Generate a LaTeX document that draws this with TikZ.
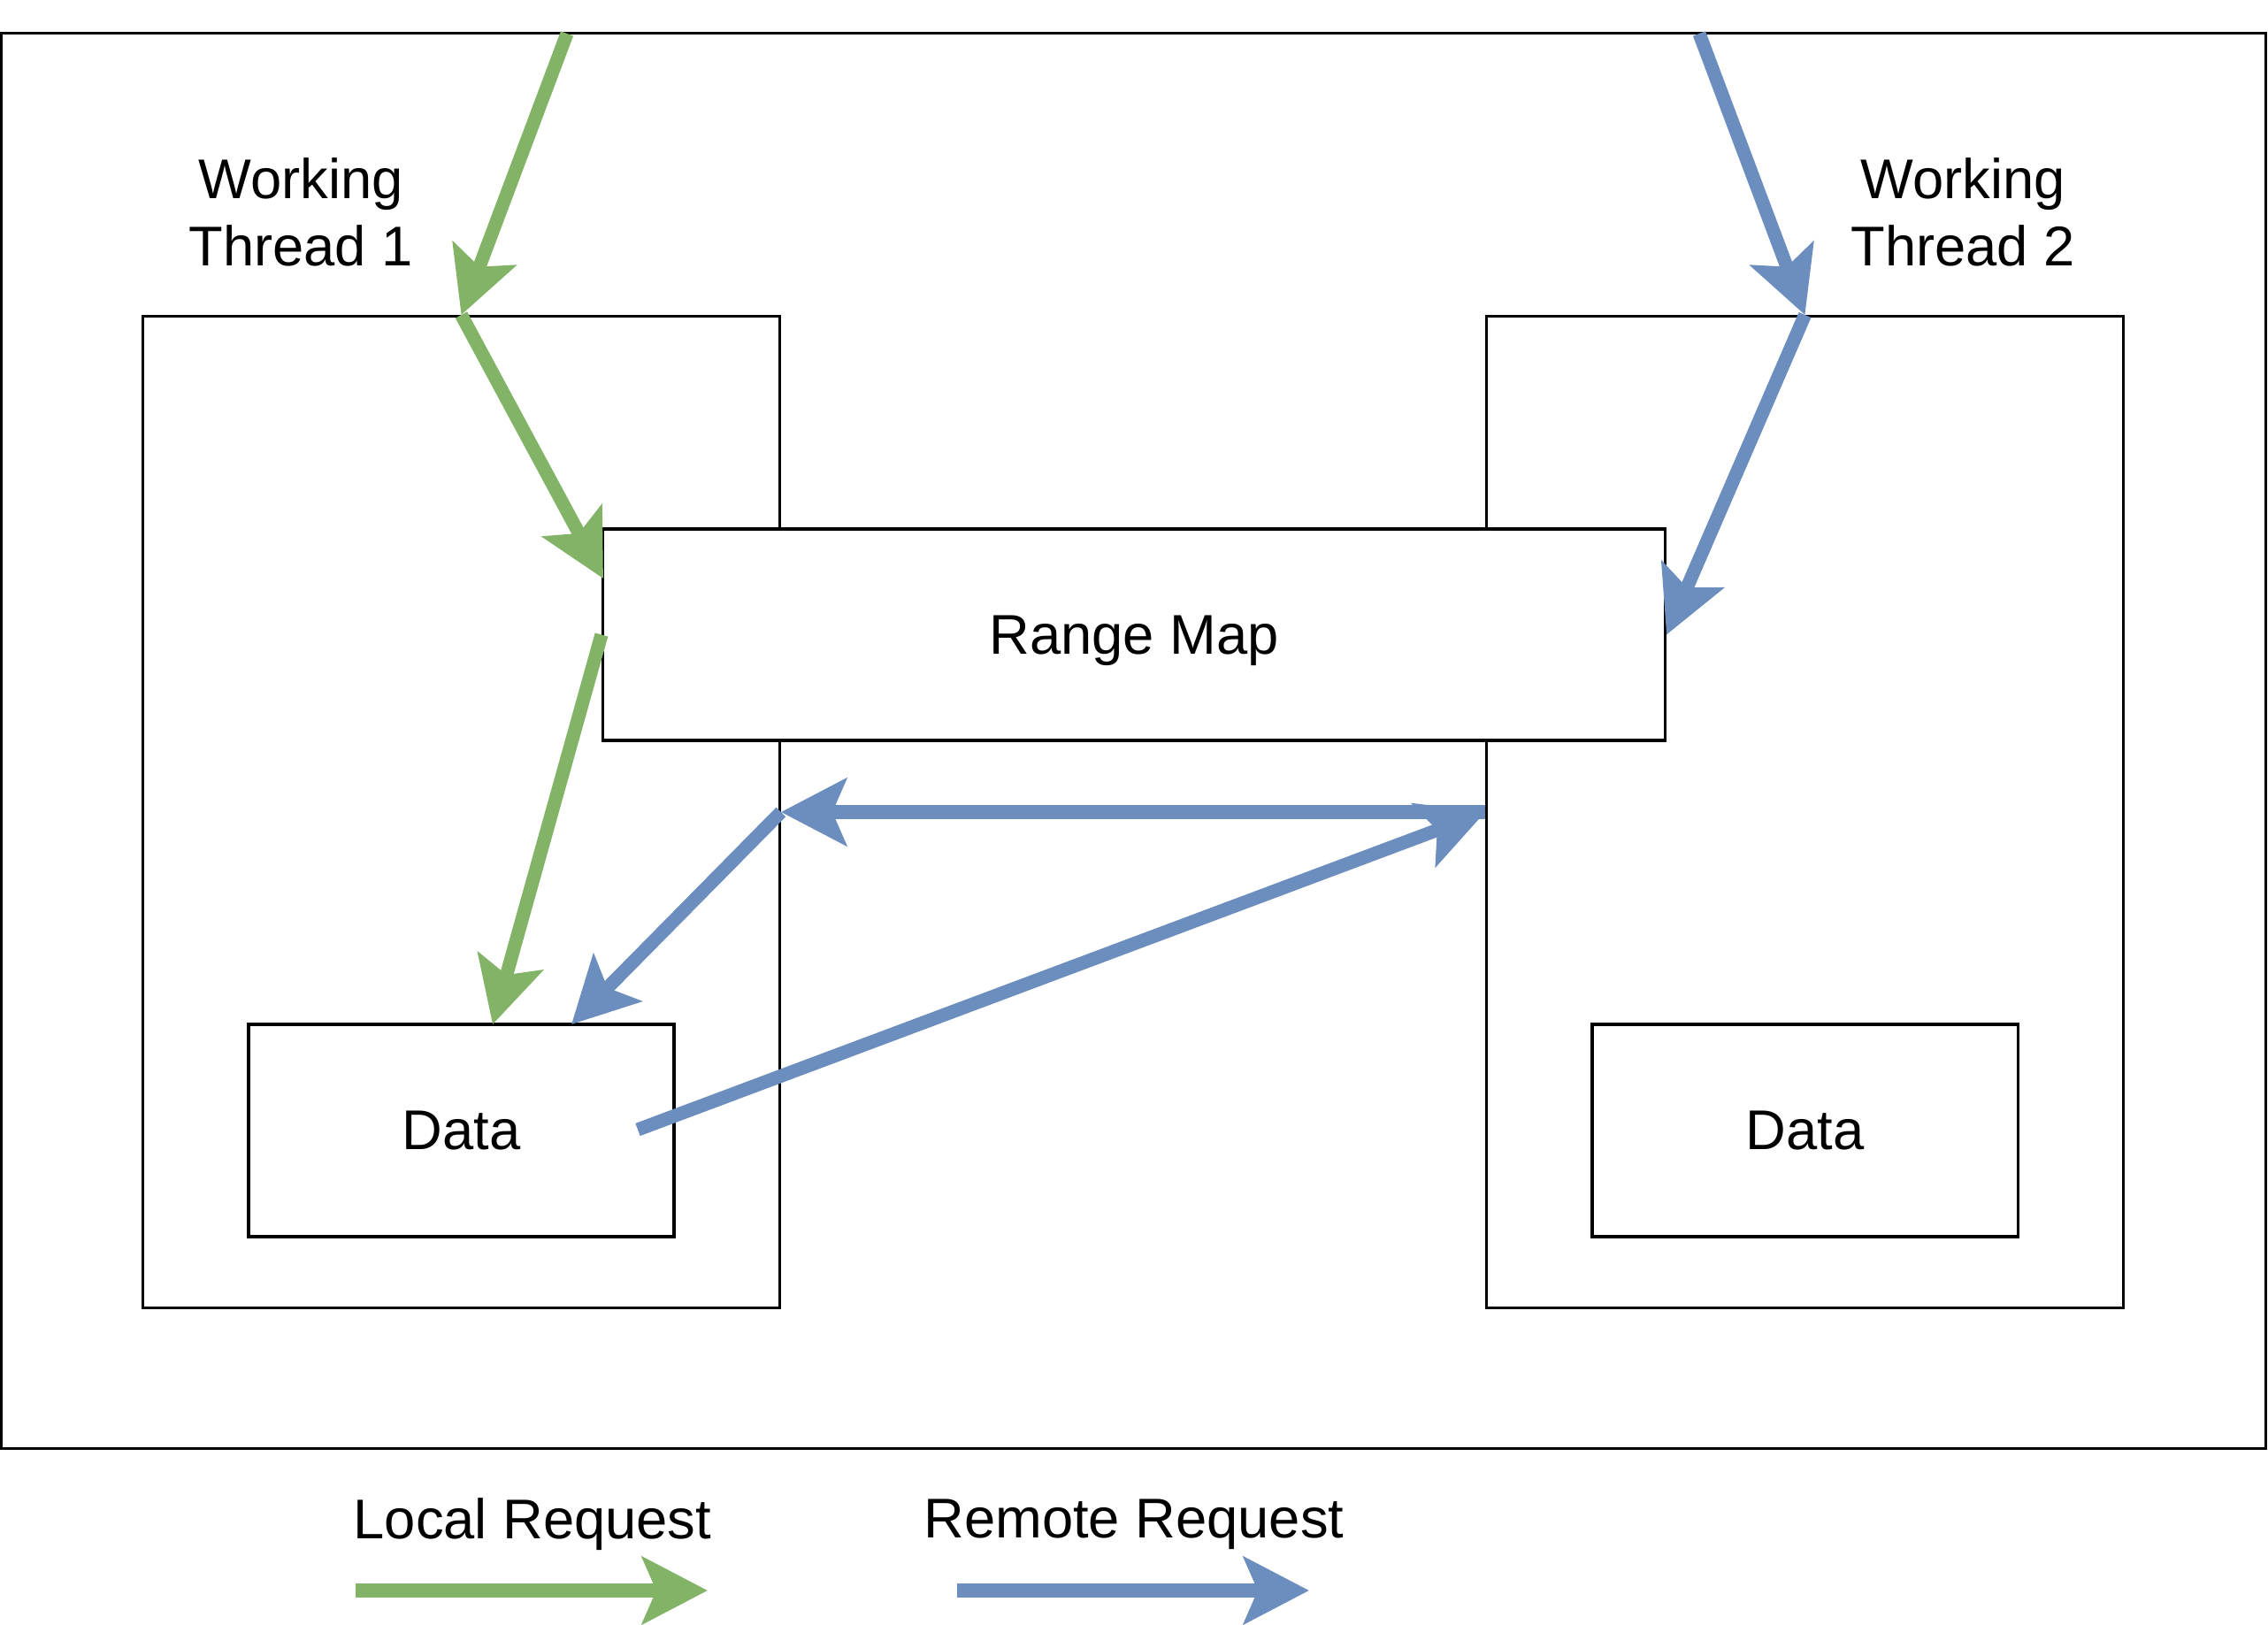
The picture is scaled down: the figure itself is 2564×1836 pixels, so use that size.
\documentclass[tikz,border=0pt]{standalone}
\usepackage{fontspec}
\setmainfont{Liberation Sans}
\usepackage{tikz}
\usetikzlibrary{arrows.meta}
\definecolor{localgreen}{HTML}{82B366}
\definecolor{remoteblue}{HTML}{6C8EBF}

\begin{document}
\begin{tikzpicture}[x=0.01cm, y=-0.01cm, font=\fontsize{18pt}{21.6pt}\selectfont,
  box/.style={draw, line width=0.95pt, fill=white, inner sep=0pt},
  txt/.style={align=center, inner sep=0pt},
  req/.style={line width=4.3pt, -{Stealth[length=21pt, width=21.5pt, inset=4.5pt]}},
  localreq/.style={req, color=localgreen},
  remotereq/.style={req, color=remoteblue}]
\useasboundingbox (0,0) rectangle (2564,1836);
%%%%% Boxes %%%%%
\node[box, minimum width=25.59cm, minimum height=15.99cm] (frame) at (1281.5,837.5) {};
\node[box, minimum width=7.19cm, minimum height=11.2cm] (wt1) at (521.5,918) {};
\node[box, minimum width=7.19cm, minimum height=11.2cm] (wt2) at (2040.5,918) {};
\node[box, text depth=0pt, minimum width=12cm, minimum height=2.39cm] (rmap) at (1282,717.5) {Range Map};
\node[box, minimum width=4.81cm, minimum height=2.4cm] (data1) at (521.5,1278) {Data};
\node[box, minimum width=4.81cm, minimum height=2.4cm] (data2) at (2040.5,1278) {Data};
\node[txt] (wt1label) at (340,240) {Working\\Thread 1};
\node[txt] (wt2label) at (2219,240) {Working\\Thread 2};
%%%%% Points %%%%%
\coordinate (localin) at (641,38);
\coordinate (remotein) at (1921,38);
\coordinate (rmapin) at (682,654);
\coordinate (data1green) at (557,1158);
\coordinate (data1blue) at (646,1158);
\coordinate (data1out) at (721,1277);
%%%%% Requests %%%%%
\draw[localreq] (localin)--(wt1.north);
\draw[localreq] (wt1.north)--(rmapin);
\draw[localreq] (rmap.west)--(data1green);
\draw[remotereq] (remotein)--(wt2.north);
\draw[remotereq] (wt2.north)--(rmap.east);
\draw[remotereq] (data1out)--(wt2.west);
\draw[remotereq] (wt2.west)--(wt1.east);
\draw[remotereq] (wt1.east)--(data1blue);
%%%%% Legend %%%%%
\node[txt, text depth=0pt] (locallabel) at (602,1717) {Local Request};
\node[txt, text depth=0pt] (remotelabel) at (1282,1717) {Remote Request};
\coordinate (localfrom) at (402,1798);
\coordinate (localto) at (800,1798);
\coordinate (remotefrom) at (1082,1798);
\coordinate (remoteto) at (1480,1798);
\draw[localreq] (localfrom)--(localto);
\draw[remotereq] (remotefrom)--(remoteto);
\end{tikzpicture}
\end{document}
